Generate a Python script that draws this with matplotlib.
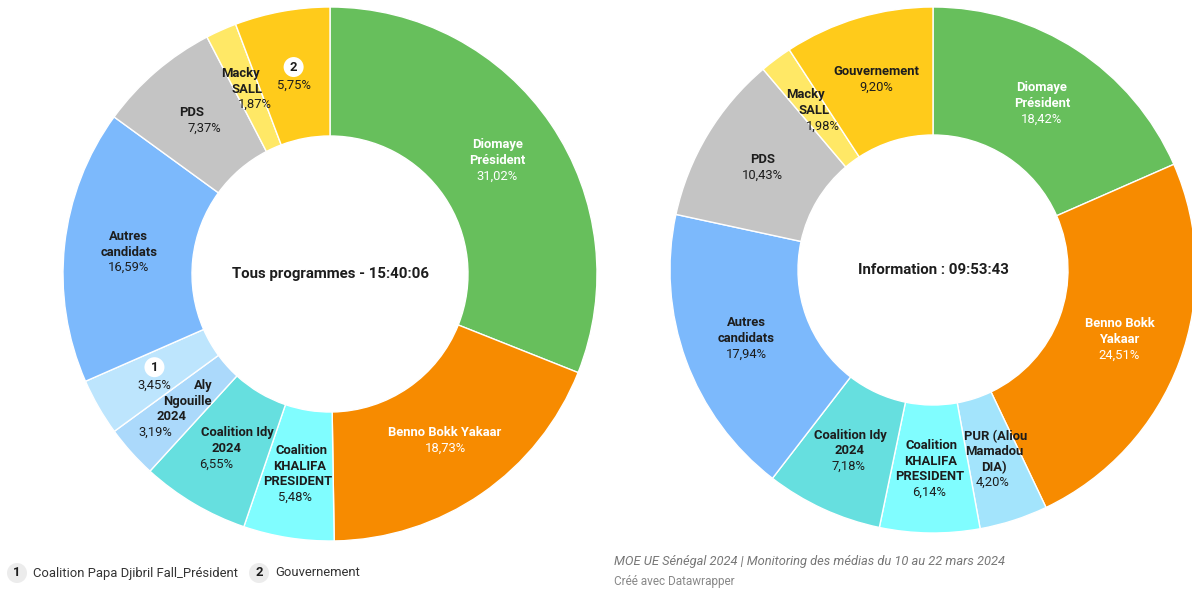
import matplotlib
matplotlib.use("Agg")
import matplotlib.pyplot as plt
import numpy as np
from matplotlib.patches import Circle

plt.rcParams['font.family'] = ['Roboto', 'DejaVu Sans']

# ---- data ----
left_labels = ["Diomaye\nPrésident", "Benno Bokk Yakaar", "Coalition\nKHALIFA\nPRESIDENT",
               "Coalition Idy\n2024", "Aly\nNgouille\n2024", "#1", "Autres\ncandidats",
               "PDS", "Macky\nSALL", "#2"]
left_values = [31.02, 18.73, 5.48, 6.55, 3.19, 3.45, 16.59, 7.37, 1.87, 5.75]
left_colors = ["#67bf5c", "#f78b00", "#80fdff", "#66dfdf", "#abd9fb", "#bde5fd",
               "#7cb9fc", "#c4c4c4", "#ffe866", "#ffcb1b"]
left_title = "Tous programmes - 15:40:06"

right_labels = ["Diomaye\nPrésident", "Benno Bokk\nYakaar", "PUR (Aliou\nMamadou\nDIA)",
                "Coalition\nKHALIFA\nPRESIDENT", "Coalition Idy\n2024", "Autres\ncandidats",
                "PDS", "Macky\nSALL", "Gouvernement"]
right_values = [18.42, 24.51, 4.20, 6.14, 7.18, 17.94, 10.43, 1.98, 9.20]
right_colors = ["#67bf5c", "#f78b00", "#a3e4fc", "#80fdff", "#66dfdf", "#7cb9fc",
                "#c4c4c4", "#ffe866", "#ffcb1b"]
right_title = "Information : 09:53:43"

legend_items = [("1", "Coalition Papa Djibril Fall_Président"), ("2", "Gouvernement")]
footer_source = "MOE UE Sénégal 2024 | Monitoring des médias du 10 au 22 mars 2024"
footer_credit = "Créé avec Datawrapper"

# ---- label styling: horizontal drift (px per line) for narrow wedges ----
left_slant = {2: -2, 3: -11, 4: -16, 7: 13, 8: 7}
right_slant = {2: -1, 3: -1, 4: -1, 7: 9}

W, H = 1192, 590
fig = plt.figure(figsize=(W / 100, H / 100), dpi=100)
ax = fig.add_axes([0, 0, 1, 1])

def Y(y):
    return H - y

white_text = {"#67bf5c", "#f78b00"}
LH = 15.5
BADGE_LH = 20.5
FS = 9.4

def donut(cx, cy, r_out, r_in, labels, values, colors, title, slant):
    ax.pie(values, colors=colors, startangle=90, counterclock=False,
           center=(cx, Y(cy)), radius=r_out,
           wedgeprops=dict(width=r_out - r_in, edgecolor="white", linewidth=1.0))
    total = sum(values)
    cum = 0.0
    rm = (r_out + r_in) / 2
    for k, (lab, v, c) in enumerate(zip(labels, values, colors)):
        mid = (cum + v / 2) / total * 2 * np.pi
        cum += v
        px = cx + rm * np.sin(mid)
        py = cy - rm * np.cos(mid)
        tc = "white" if c in white_text else "#1d1d1d"
        pct = f"{v:.2f}%".replace(".", ",")
        lines = [lab] if lab.startswith("#") else lab.split("\n")
        lines = lines + [None]
        heights = [BADGE_LH if (ln and ln.startswith("#")) else LH for ln in lines]
        total_h = sum(heights)
        n = len(lines)
        s = slant.get(k, 0)
        y0 = py - total_h / 2
        for i, (ln, h) in enumerate(zip(lines, heights)):
            ly = y0 + h / 2
            y0 += h
            lx = px + (i - (n - 1) / 2) * s
            if ln is None:
                ax.text(lx, Y(ly), pct, ha="center", va="center", fontsize=FS,
                        color=tc, zorder=6)
            elif ln.startswith("#"):
                ax.add_patch(Circle((lx, Y(ly)), 10, facecolor="white", edgecolor="none", zorder=5))
                ax.text(lx, Y(ly), ln[1:], ha="center", va="center", fontsize=FS,
                        fontweight="bold", color="#1d1d1d", zorder=6)
            else:
                ax.text(lx, Y(ly), ln, ha="center", va="center", fontsize=FS,
                        fontweight="bold", color=tc, zorder=6)
    ax.text(cx, Y(cy), title, ha="center", va="center", fontsize=10.8,
            fontweight="bold", color="#1d1d1d")

donut(330, 274, 267, 138, left_labels, left_values, left_colors, left_title, left_slant)
donut(933, 270, 263, 135, right_labels, right_values, right_colors, right_title, right_slant)

ax.set_xlim(0, W)
ax.set_ylim(0, H)
ax.set_aspect("equal")
ax.axis("off")

# legend
renderer = fig.canvas.get_renderer()
lx = 17
for num, txt in legend_items:
    ax.add_patch(Circle((lx, Y(573)), 10, facecolor="#ececec", edgecolor="none"))
    ax.text(lx, Y(573), num, ha="center", va="center", fontsize=9.4,
            fontweight="bold", color="#1d1d1d")
    t = ax.text(lx + 16, Y(573), txt, ha="left", va="center", fontsize=9.4, color="#333333")
    bb = t.get_window_extent(renderer=renderer)
    lx = bb.x1 + 21

ax.text(614, Y(562), footer_source, ha="left", va="center", fontsize=9.25,
        style="italic", color="#777777")
ax.text(614, Y(581), footer_credit, ha="left", va="center", fontsize=8.5,
        color="#888888")

fig.savefig("out.png", dpi=100, facecolor="white")
